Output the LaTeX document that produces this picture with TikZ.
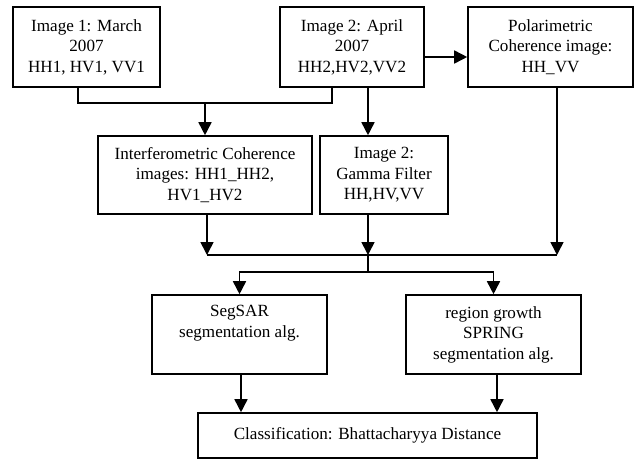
\documentclass[tikz,border=0pt]{standalone}
\usepackage{fontspec}
\setmainfont{Liberation Serif}
\usetikzlibrary{arrows.meta,positioning}

\begin{document}
\begin{tikzpicture}[
    x = 1pt,
    y = -1pt,
    > = {Triangle[length=13pt,width=13pt]},
    line width = 1.6pt,
    box/.style={rectangle, draw, align=center, inner sep=0pt,
        font=\fontsize{17.1}{20.5}\selectfont}
]
    \useasboundingbox (0,0) rectangle (634,459);

    \node[box, minimum width=147pt, minimum height=80pt] (img1) at (86.5,47) {Image 1: March\\2007\\HH1, HV1, VV1};
    \node[box, minimum width=144pt, minimum height=80pt] (img2) at (352,47) {Image 2: April\\2007\\HH2,HV2,VV2};
    \node[box, minimum width=165pt, minimum height=80pt] (polar) at (550.5,47) {Polarimetric\\Coherence image:\\HH\_VV};
    \node[box, minimum width=214pt, minimum height=78pt] (interf) at (205,175) {Interferometric Coherence\\images: HH1\_HH2,\\HV1\_HV2};
    \node[box, minimum width=128pt, minimum height=78pt] (gamma) at (384,175) {Image 2:\\Gamma Filter\\HH,HV,VV};
    \node[box, minimum width=175pt, minimum height=79pt] (segsar) at (239.5,334.5) {SegSAR\\segmentation alg.\\\strut};
    \node[box, minimum width=175pt, minimum height=79pt] (spring) at (493.5,334.5) {region growth\\SPRING\\segmentation alg.};
    \node[box, minimum width=339pt, minimum height=45pt] (classif) at (367.5,435.5) {Classification: Bhattacharyya Distance};

    \coordinate (join) at (205,103);
    \coordinate (merge) at (368,255);
    \coordinate (split) at (368,272);

    \draw ([xshift=-8.5pt]img1.south) |- (join) -| ([xshift=-20pt]img2.south);
    \draw[->] (join) -- (interf.north);
    \draw[->] ([xshift=16pt]img2.south) -- ([xshift=16pt]img2.south |- gamma.north);
    \draw[->] ([yshift=-10pt]img2.east) -- ([yshift=-10pt]img2.east -| polar.west);

    \draw[->] ([xshift=2pt]interf.south) -- ([xshift=2pt]interf.south |- merge);
    \draw[->] ([xshift=-16pt]gamma.south) -- (merge);
    \draw[->] ([xshift=6.5pt]polar.south) -- ([xshift=6.5pt]polar.south |- merge);
    \draw ([xshift=2pt]interf.south |- merge) -- ([xshift=6.5pt]polar.south |- merge);

    \draw (merge) -- (split);
    \draw[->] (split) -| (segsar.north);
    \draw[->] (split) -| (spring.north);
    \draw[->] ([xshift=1.5pt]segsar.south) -- ([xshift=1.5pt]segsar.south |- classif.north);
    \draw[->] ([xshift=3.5pt]spring.south) -- ([xshift=3.5pt]spring.south |- classif.north);
\end{tikzpicture}
\end{document}
